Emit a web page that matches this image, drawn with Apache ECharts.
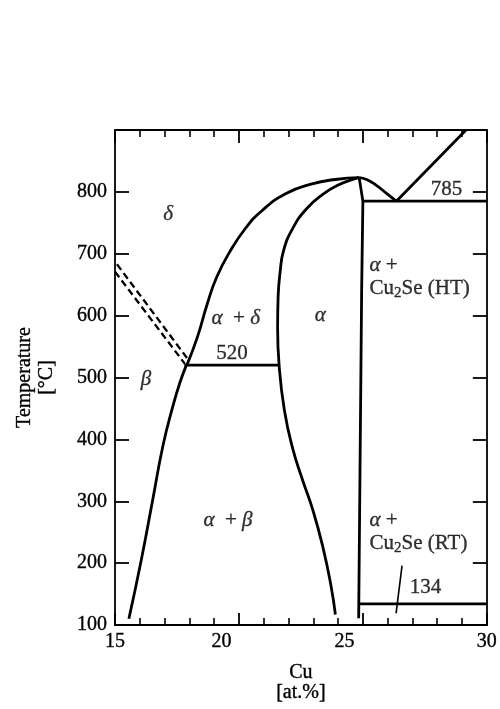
<!DOCTYPE html>
<html>
<head>
<meta charset="utf-8">
<script src="https://cdn.jsdelivr.net/npm/echarts@6/dist/echarts.min.js"></script>
<style>
  html, body { margin: 0; padding: 0; background: #fff; }
  #chart { width: 500px; height: 709px; }
</style>
</head>
<body>
<div id="chart"></div>
<script>
// ---- Data (Cu at.% , Temperature °C) ----
const xTicks = [15, 20, 25, 30];
const yTicks = [100, 200, 300, 400, 500, 600, 700, 800];

const betaBoundary  = [[15.56,110],[16.06,205],[16.52,302],[16.93,389],[17.33,453],[17.62,492],[17.88,520]];
const deltaBoundary = [[17.9,520],[18.33,566],[18.73,620],[19.1,662],[19.6,701],[20.28,742],[20.94,770],[21.88,797],[22.95,813],[23.89,820],[24.85,823]];
const alphaBoundary = [[23.89,117],[23.72,162],[23.38,227],[22.98,286],[22.57,334],[22.17,385],[21.83,448],[21.62,520],[21.56,580],[21.58,630],[21.66,670],[21.8,705],[22.17,741],[22.71,772],[23.38,796],[24.05,812],[24.59,820],[24.85,823]];
const solvusLine    = [[24.85,823],[25.0,785],[24.95,640],[24.83,111]];
const eutecticCurve = [[24.85,823],[25.15,820],[25.53,811],[25.94,798],[26.35,785]];
const liquidusLine  = [[26.35,785],[29.16,900]];
const isotherm785   = [[25.0,785],[30,785]];
const isotherm520   = [[17.8,520],[21.62,520]];
const isotherm134   = [[24.83,134],[30,134]];
const leaderLine    = [[26.58,196],[26.34,119]];
const dashUpper     = [[15.08,683],[17.97,528]];
const dashLower     = [[15.0,671],[17.82,522]];

const labelTexts = ['δ', 'α  + δ', 'α', 'β', 'α  + β', '520', '785', '134', 'α +\nCu2Se (HT)', 'α +\nCu2Se (RT)'];
const labelX     = [17.14, 19.87, 23.28, 16.25, 19.56, 19.72, 28.37, 27.53, 25.25, 25.25];
const labelT     = [764, 596, 601, 496, 269, 539, 804, 160, 662, 250];
const labelLeft  = [false, false, false, false, false, false, false, false, true, true];

// ---- Styling ----
const FONT = '"Liberation Serif", "Times New Roman", serif';
const INK = '#000';
const CURVE_W = 2.8;
const TXT = { fontFamily: FONT, color: INK, textBorderColor: INK, textBorderWidth: 0.35 };

function richify(t) {
  return t.split('\n').map(line => {
    let out = '';
    let buf = '';
    const flush = () => { if (buf) { out += '{n|' + buf + '}'; buf = ''; } };
    let i = 0;
    while (i < line.length) {
      if (line.substr(i, 5) === 'Cu2Se') {
        flush();
        out += '{n|Cu}{s|2}{n|Se}';
        i += 5;
        continue;
      }
      const ch = line[i];
      if ('αβδ'.indexOf(ch) >= 0) { flush(); out += '{i|' + ch + '}'; }
      else buf += ch;
      i++;
    }
    flush();
    return out;
  }).join('\n');
}

const richStyles = {
  n: Object.assign({ fontSize: 21, lineHeight: 23 }, TXT),
  i: Object.assign({ fontSize: 21, fontStyle: 'italic', lineHeight: 23 }, TXT),
  s: Object.assign({ fontSize: 15, lineHeight: 5, verticalAlign: 'bottom' }, TXT),
  p20: Object.assign({ fontSize: 20, padding: [0, 35, 0, 0] }, TXT),
  p25: Object.assign({ fontSize: 20, padding: [0, 37, 0, 0] }, TXT),
  d: Object.assign({ fontSize: 20 }, TXT)
};

function lineSeries(data, opts) {
  return Object.assign({
    type: 'line', data: data, symbol: 'none', silent: true,
    lineStyle: { color: INK, width: CURVE_W }, z: 3
  }, opts || {});
}

const labelData = labelTexts.map((t, k) => ({
  value: [labelX[k], labelT[k]],
  label: {
    show: true,
    position: labelLeft[k] ? 'right' : 'inside',
    distance: 0,
    align: labelLeft[k] ? 'left' : 'center',
    verticalAlign: 'middle',
    formatter: richify(t),
    rich: richStyles
  }
}));

const axisLineStyle = { color: INK, width: 1.8 };

const option = {
  backgroundColor: '#fff',
  animation: false,
  grid: { left: 115, right: 12, top: 130, bottom: 84, containLabel: false },
  xAxis: [
    {
      type: 'value', min: 15, max: 30, interval: 5, position: 'bottom',
      axisLine: { show: true, onZero: false, lineStyle: axisLineStyle },
      axisTick: { show: true, inside: true, length: 12, lineStyle: axisLineStyle },
      minorTick: { show: true, splitNumber: 5, length: 7, lineStyle: { color: INK, width: 1.6 } },
      splitLine: { show: false }, minorSplitLine: { show: false },
      axisLabel: {
        margin: 7, fontFamily: FONT, fontSize: 20, color: INK,
        formatter: v => (v === 20 ? '{p20|20}' : v === 25 ? '{p25|25}' : '{d|' + v + '}'),
        rich: richStyles
      },
      name: 'Cu\n[at.%]', nameLocation: 'middle', nameGap: 38,
      nameTextStyle: Object.assign({ fontSize: 20, lineHeight: 20 }, TXT)
    },
    {
      type: 'value', min: 15, max: 30, interval: 5, position: 'top',
      axisLine: { show: true, onZero: false, lineStyle: axisLineStyle },
      axisTick: { show: true, inside: true, length: 13, lineStyle: axisLineStyle },
      minorTick: { show: true, splitNumber: 5, length: 7, lineStyle: { color: INK, width: 1.6 } },
      splitLine: { show: false }, minorSplitLine: { show: false },
      axisLabel: { show: false }
    }
  ],
  yAxis: [
    {
      type: 'value', min: 100, max: 900, interval: 100, position: 'left',
      axisLine: { show: true, onZero: false, lineStyle: axisLineStyle },
      axisTick: { show: true, inside: true, length: 14, lineStyle: axisLineStyle },
      splitLine: { show: false },
      axisLabel: Object.assign({
        margin: 8, fontSize: 20,
        formatter: v => (yTicks.indexOf(v) >= 0 ? String(v) : '')
      }, TXT),
      name: 'Temperature\n[°C]', nameLocation: 'middle', nameGap: 57, nameRotate: 90,
      nameTextStyle: Object.assign({ fontSize: 20, lineHeight: 22 }, TXT)
    },
    {
      type: 'value', min: 100, max: 900, interval: 100, position: 'right',
      axisLine: { show: true, onZero: false, lineStyle: axisLineStyle },
      axisTick: { show: true, inside: true, length: 14, lineStyle: axisLineStyle },
      splitLine: { show: false },
      axisLabel: { show: false }
    }
  ],
  series: [
    lineSeries(betaBoundary, { smooth: 0.5 }),
    lineSeries(deltaBoundary, { smooth: 0.5 }),
    lineSeries(alphaBoundary, { smooth: 0.5 }),
    lineSeries(solvusLine),
    lineSeries(eutecticCurve, { smooth: 0.5 }),
    lineSeries(liquidusLine),
    lineSeries(isotherm785),
    lineSeries(isotherm520),
    lineSeries(isotherm134),
    lineSeries(leaderLine, { lineStyle: { color: INK, width: 1.6 } }),
    lineSeries(dashUpper, { lineStyle: { color: INK, width: 2.3, type: [7, 4] } }),
    lineSeries(dashLower, { lineStyle: { color: INK, width: 2.3, type: [7, 4] } }),
    {
      type: 'scatter', data: labelData, symbolSize: 1, silent: true,
      itemStyle: { color: 'rgba(0,0,0,0)' }, z: 5
    }
  ]
};

const chart = echarts.init(document.getElementById('chart'), null, { renderer: 'canvas' });
chart.setOption(option);
</script>
</body>
</html>
